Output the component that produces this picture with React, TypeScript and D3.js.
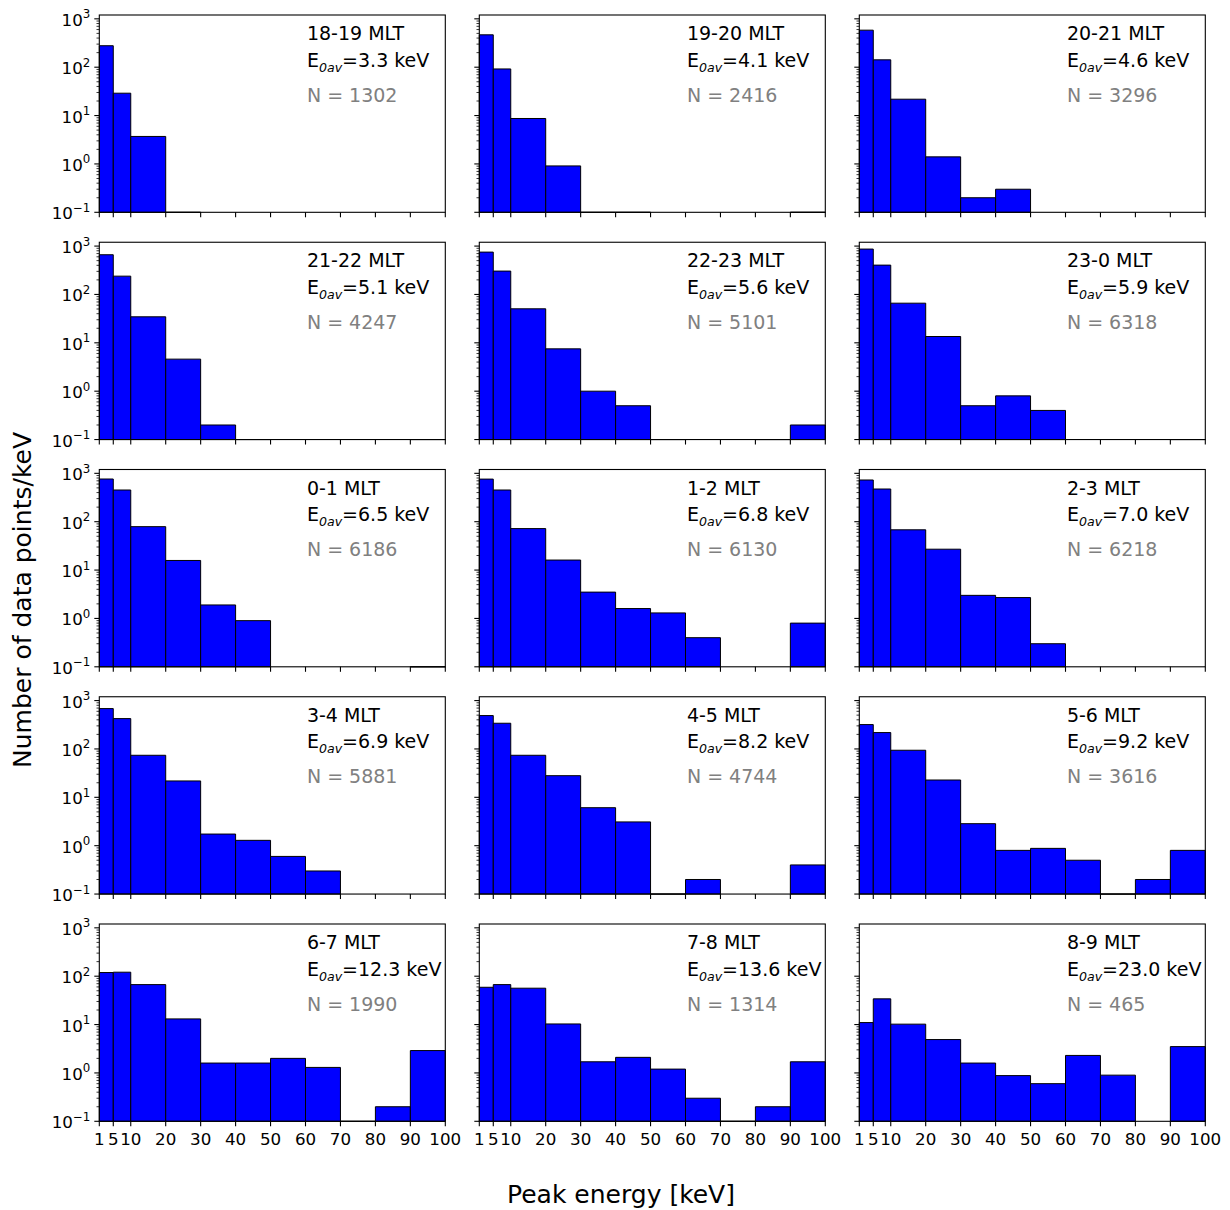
import React from "react";
import * as d3 from "d3";

// Histogram bin edges (keV) shared by every panel
const binEdges = [1, 5, 10, 20, 30, 40, 50, 60, 70, 80, 90, 100];
const xTickValues = [1, 5, 10, 20, 30, 40, 50, 60, 70, 80, 90, 100];
const yTickExponents = [-1, 0, 1, 2, 3];

// Panel annotations, in reading order (left to right, top to bottom)
const mltLabels = [
  "18-19 MLT", "19-20 MLT", "20-21 MLT",
  "21-22 MLT", "22-23 MLT", "23-0 MLT",
  "0-1 MLT", "1-2 MLT", "2-3 MLT",
  "3-4 MLT", "4-5 MLT", "5-6 MLT",
  "6-7 MLT", "7-8 MLT", "8-9 MLT",
];
const meanEnergies = [
  "3.3", "4.1", "4.6",
  "5.1", "5.6", "5.9",
  "6.5", "6.8", "7.0",
  "6.9", "8.2", "9.2",
  "12.3", "13.6", "23.0",
];
const sampleCounts = [
  1302, 2416, 3296,
  4247, 5101, 6318,
  6186, 6130, 6218,
  5881, 4744, 3616,
  1990, 1314, 465,
];

// Number of data points per keV in each bin (0 = empty bin)
const rates18_19 = [278, 29, 3.7, 0.1, 0, 0, 0, 0, 0, 0, 0];
const rates19_20 = [467, 92, 8.7, 0.91, 0.1, 0.1, 0, 0, 0, 0, 0.1];
const rates20_21 = [583, 142, 21.8, 1.4, 0.2, 0.3, 0, 0, 0, 0, 0];
const rates21_22 = [662, 239, 34.5, 4.6, 0.2, 0.1, 0, 0, 0, 0, 0.1];
const rates22_23 = [751, 304, 50.5, 7.5, 1.0, 0.5, 0.1, 0, 0, 0.1, 0.2];
const rates23_0 = [867, 404, 66, 13.5, 0.5, 0.8, 0.4, 0, 0, 0, 0.1];
const rates0_1 = [763, 452, 79, 15.8, 1.9, 0.9, 0, 0, 0, 0, 0.1];
const rates1_2 = [760, 452, 72, 16.1, 3.5, 1.6, 1.3, 0.4, 0, 0, 0.8];
const rates2_3 = [728, 474, 68, 27, 3.0, 2.7, 0.3, 0, 0, 0, 0];
const rates3_4 = [683, 424, 74, 21.8, 1.74, 1.29, 0.6, 0.3, 0, 0, 0];
const rates4_5 = [490, 340, 74, 28, 6.1, 3.1, 0.1, 0.2, 0, 0, 0.4];
const rates5_6 = [319, 218, 94, 22.8, 2.85, 0.8, 0.88, 0.5, 0.1, 0.2, 0.8];
const rates6_7 = [119, 121, 67, 13.1, 1.6, 1.6, 2.0, 1.3, 0.1, 0.2, 2.9];
const rates7_8 = [59, 67, 56.5, 10.3, 1.7, 2.1, 1.2, 0.3, 0.1, 0.2, 1.7];
const rates8_9 = [11, 34, 10.2, 4.9, 1.6, 0.88, 0.6, 2.3, 0.9, 0, 3.5];

const panelRates = [
  rates18_19, rates19_20, rates20_21,
  rates21_22, rates22_23, rates23_0,
  rates0_1, rates1_2, rates2_3,
  rates3_4, rates4_5, rates5_6,
  rates6_7, rates7_8, rates8_9,
];

// Figure geometry
const WIDTH = 1230;
const HEIGHT = 1210;
const COL_LEFTS = [99.3, 479.3, 859.3];
const PANEL_W = 346;
const ROW_TOP0 = 15;
const ROW_STEP = 227.25;
const PANEL_H = 197.3;
const N_COLS = 3;
const N_ROWS = 5;
const FONT = "DejaVu Sans, Verdana, sans-serif";
const Y_MIN = 0.1;
const Y_MAX = 1200;

const superscript = (e: number) => (e < 0 ? "\u2212" + Math.abs(e) : String(e));

function Panel({ index }: { index: number }) {
  const col = index % N_COLS;
  const row = Math.floor(index / N_COLS);
  const left = COL_LEFTS[col];
  const top = ROW_TOP0 + row * ROW_STEP;
  const bottom = top + PANEL_H;
  const right = left + PANEL_W;

  const x = d3.scaleLinear().domain([1, 100]).range([left, right]);
  const y = d3.scaleLog().domain([Y_MIN, Y_MAX]).range([bottom, top]);

  const rates = panelRates[index];
  const showY = col === 0;
  const showX = row === N_ROWS - 1;

  const minorVals: number[] = [];
  for (let k = -1; k <= 3; k++) {
    for (let m = 2; m <= 9; m++) {
      const v = m * Math.pow(10, k);
      if (v <= Y_MAX) minorVals.push(v);
    }
  }

  const tx = left + 0.6 * PANEL_W;

  return (
    <g>
      {/* histogram bars: drawn as paths so single-count bins show as a flat edge */}
      {rates.map((v, i) => {
        if (v <= 0) return null;
        const x0 = x(binEdges[i]);
        const x1 = x(binEdges[i + 1]);
        const y0 = y(Y_MIN);
        const y1 = y(Math.max(v, Y_MIN));
        return (
          <path
            key={i}
            d={`M${x0},${y0}V${y1}H${x1}V${y0}Z`}
            fill="#0000ff"
            stroke="#000"
            strokeWidth={1}
          />
        );
      })}
      {/* frame */}
      <rect x={left} y={top} width={PANEL_W} height={PANEL_H} fill="none" stroke="#000" strokeWidth={1.1} />
      {/* x ticks */}
      {xTickValues.map((t) => (
        <g key={"xt" + t}>
          <line x1={x(t)} x2={x(t)} y1={bottom} y2={bottom + 5} stroke="#000" strokeWidth={1.1} />
          {showX && (
            <text x={x(t)} y={bottom + 24} textAnchor="middle" fontSize={16.7} fontFamily={FONT} fill="#000">
              {t}
            </text>
          )}
        </g>
      ))}
      {/* y major ticks */}
      {yTickExponents.map((e) => {
        const yy = y(Math.pow(10, e));
        return (
          <g key={"yt" + e}>
            <line x1={left - 5} x2={left} y1={yy} y2={yy} stroke="#000" strokeWidth={1.1} />
            {showY && (
              <text x={left - 9} y={yy + 7} textAnchor="end" fontSize={16.7} fontFamily={FONT} fill="#000">
                10
                <tspan dy={-7.5} fontSize={11.8}>
                  {superscript(e)}
                </tspan>
              </text>
            )}
          </g>
        );
      })}
      {/* y minor ticks */}
      {minorVals.map((v) => (
        <line key={"ym" + v} x1={left - 2.8} x2={left} y1={y(v)} y2={y(v)} stroke="#000" strokeWidth={0.8} />
      ))}
      {/* annotations */}
      <text x={tx} y={top + 25} fontSize={19} fontFamily={FONT} fill="#000">
        {mltLabels[index]}
      </text>
      <text x={tx} y={top + 51.7} fontSize={19} fontFamily={FONT} fill="#000">
        E
        <tspan dy={5} fontSize={12.6} fontStyle="italic">
          0av
        </tspan>
        <tspan dy={-5}>={meanEnergies[index]} keV</tspan>
      </text>
      <text x={tx} y={top + 86.7} fontSize={19} fontFamily={FONT} fill="#808080">
        N = {sampleCounts[index]}
      </text>
    </g>
  );
}

export default function App() {
  return (
    <svg
      width={WIDTH}
      height={HEIGHT}
      viewBox={`0 0 ${WIDTH} ${HEIGHT}`}
      style={{ position: "absolute", left: 0, top: 0, background: "#fff" }}
    >
      <rect x={0} y={0} width={WIDTH} height={HEIGHT} fill="#fff" />
      {panelRates.map((_, i) => (
        <Panel key={i} index={i} />
      ))}
      <text x={621} y={1203} textAnchor="middle" fontSize={25} fontFamily={FONT} fill="#000">
        Peak energy [keV]
      </text>
      <text
        transform="translate(31,600) rotate(-90)"
        textAnchor="middle"
        fontSize={25}
        fontFamily={FONT}
        fill="#000"
      >
        Number of data points/keV
      </text>
    </svg>
  );
}
